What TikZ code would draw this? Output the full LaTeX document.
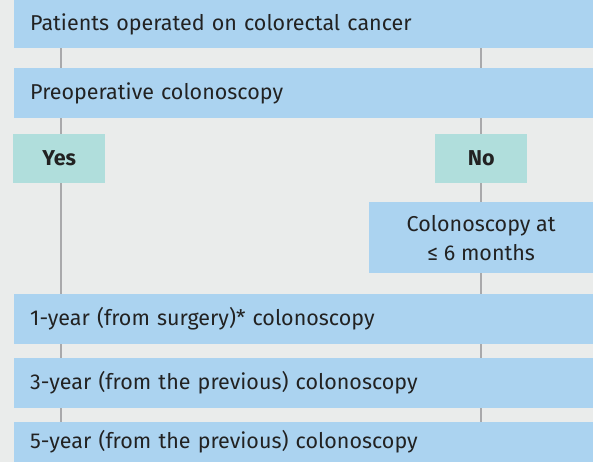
\documentclass[tikz,border=0pt]{standalone}
\usepackage{fontspec}
\setmainfont{Fira Sans}
\definecolor{bg}{HTML}{EAECEB}
\definecolor{boxblue}{HTML}{ABD3F0}
\definecolor{boxteal}{HTML}{B0DEDC}
\definecolor{linegray}{HTML}{A9A9AB}
\definecolor{txt}{HTML}{222222}
\tikzset{
  wide/.style={fill=boxblue, anchor=north west, inner sep=0pt, inner xsep=16pt,
    text width=547pt, align=left, minimum height=#1, text=txt, font=\fontsize{21.5}{25}\selectfont},
  choice/.style={fill=boxteal, anchor=north west, inner sep=0pt, minimum width=92pt,
    minimum height=49pt, text=txt, font=\fontsize{21.5}{25}\selectfont\bfseries},
  sub/.style={fill=boxblue, anchor=north west, inner sep=0pt, minimum width=224pt,
    minimum height=71pt, text=txt, align=center, font=\fontsize{21.5}{29}\selectfont},
  link/.style={draw=linegray, line width=1.4pt}
}
\begin{document}
\begin{tikzpicture}[x=1pt,y=-1pt]
\fill[bg] (0,0) rectangle (593,462);
\useasboundingbox (0,0) rectangle (593,462);
\coordinate (L) at (61,0);
\coordinate (R) at (481,0);
\node[wide=48pt] (b1) at (14,0) {Patients operated on colorectal cancer};
\node[wide=50pt] (b2) at (14,68) {Preoperative colonoscopy};
\node[choice] (yes) at (13,134) {Yes};
\node[choice] (no) at (435,134) {No};
\node[sub] (c6) at (369,202) {Colonoscopy at\\ ≤ 6 months};
\node[wide=50pt] (y1) at (14,294) {1-year (from surgery)* colonoscopy};
\node[wide=50pt] (y3) at (14,358) {3-year (from the previous) colonoscopy};
\node[wide=40pt] (y5) at (14,422) {5-year (from the previous) colonoscopy};
\draw[link] (b1.south -| L) -- (b2.north -| L);
\draw[link] (b1.south -| R) -- (b2.north -| R);
\draw[link] (b2.south -| L) -- (yes.north -| L);
\draw[link] (b2.south -| R) -- (no.north -| R);
\draw[link] (yes.south -| L) -- (y1.north -| L);
\draw[link] (no.south -| R) -- (c6.north -| R);
\draw[link] (c6.south -| R) -- (y1.north -| R);
\draw[link] (y1.south -| L) -- (y3.north -| L);
\draw[link] (y1.south -| R) -- (y3.north -| R);
\draw[link] (y3.south -| L) -- (y5.north -| L);
\draw[link] (y3.south -| R) -- (y5.north -| R);
\end{tikzpicture}
\end{document}
